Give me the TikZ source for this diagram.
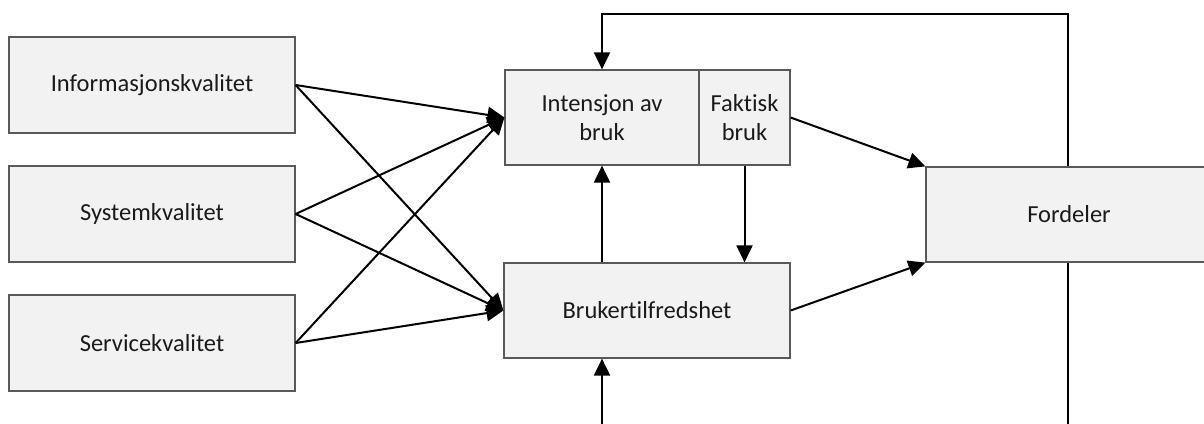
\documentclass[tikz,border=0pt]{standalone}
\usepackage{fontspec}
\setmainfont{Carlito}[Ligatures=NoCommon]
\usetikzlibrary{arrows.meta}
\definecolor{boxfill}{HTML}{F2F2F2}
\definecolor{boxline}{HTML}{595959}
\definecolor{txt}{HTML}{1A1A1A}
\begin{document}
\begin{tikzpicture}[x=1pt,y=-1pt,
  box/.style={draw=boxline, fill=boxfill, line width=1.2pt, inner sep=0pt,
    align=center, text=txt, font=\fontsize{24.5}{29.5}\selectfont},
  link/.style={line width=2pt, black},
  arr/.style={link, -{Triangle[length=17pt,width=16pt]}}]
  \useasboundingbox (0,0) rectangle (1204,423);
  \clip (0,0) rectangle (1204,423);

  % feedback path from the benefits back to intention of use
  \coordinate (fbot) at (1068,430);
  \coordinate (ftop) at (1068,14);
  \coordinate (sbot) at (602,430);

  % quality factors
  \node[box, minimum width=286pt, minimum height=96pt] (info) at (152,85) {Informasjonskvalitet};
  \node[box, minimum width=286pt, minimum height=96pt] (sys)  at (152,214) {Systemkvalitet};
  \node[box, minimum width=286pt, minimum height=96pt] (serv) at (152,343) {Servicekvalitet};

  % use and satisfaction
  \node[box, minimum width=194pt, minimum height=95pt] (int) at (602,117.5) {Intensjon av\\bruk};
  \node[box, minimum width=91pt, minimum height=95pt] (fak) at (744.5,117.5) {Faktisk\\bruk};
  \node[box, minimum width=286pt, minimum height=95pt] (bruk) at (647,310.5) {Brukertilfredshet};

  \draw[arr] (fbot) -- (ftop) -| (int.north);

  % benefits
  \node[box, minimum width=286pt, minimum height=95pt] (ford) at (1069,214.5) {Fordeler};

  % quality factors to intention and satisfaction
  \foreach \q in {info,sys,serv}{
    \draw[arr] (\q.east) -- (int.west);
    \draw[arr] (\q.east) -- (bruk.west);
  }

  \draw[arr] (bruk.north -| int.south) -- (int.south);
  \draw[arr] (fak.south) -- (fak.south |- bruk.north);
  \draw[arr] (sbot) -- (bruk.south -| sbot);

  \draw[arr] (fak.east) -- (ford.north west);
  \draw[arr] (bruk.east) -- (ford.south west);
\end{tikzpicture}
\end{document}
